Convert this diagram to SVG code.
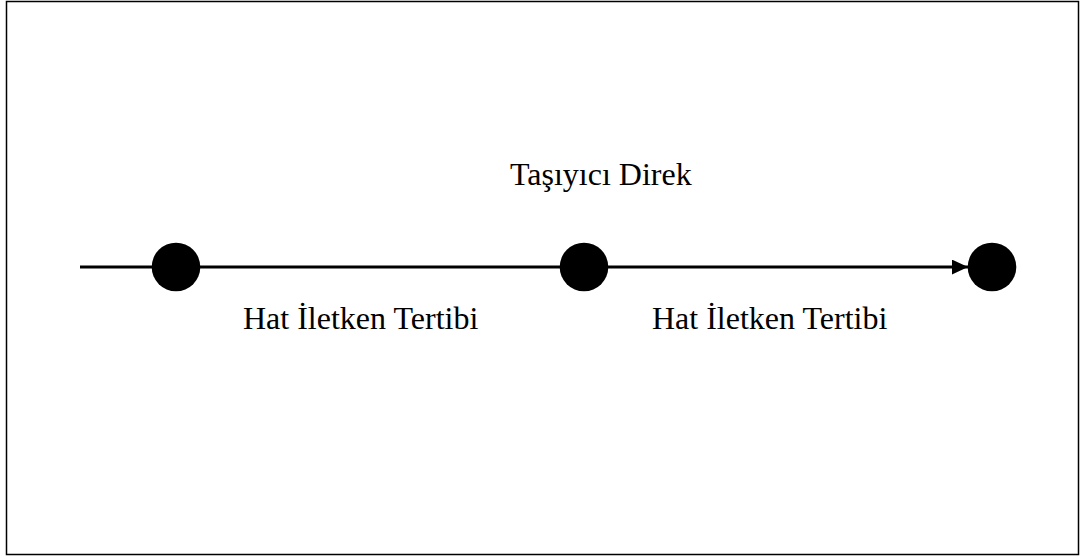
<svg xmlns="http://www.w3.org/2000/svg" width="1080" height="556" viewBox="0 0 1080 556">
<style>
.lbl{font-family:"Liberation Serif","Times New Roman",serif;font-size:32px;fill:#000}
.node{fill:#000}
.conn{stroke:#000;stroke-width:3;fill:none}
</style>
<defs>
<marker id="arr" markerWidth="6" markerHeight="6" refX="5.4" refY="2.5" orient="auto" markerUnits="strokeWidth"><path d="M0,0 L5.4,2.5 L0,5 Z" fill="#000"/></marker>
</defs>
<rect x="6.5" y="1.5" width="1072" height="553" fill="#fff" stroke="#000" stroke-width="1.5"/>
<g id="connectors">
<line class="conn" x1="80" y1="267" x2="968" y2="267" marker-end="url(#arr)"/>
</g>
<g id="node1"><circle class="node" cx="176" cy="267" r="24.3"/></g>
<g id="node2"><circle class="node" cx="584" cy="267" r="24.3"/></g>
<g id="node3"><circle class="node" cx="992" cy="267" r="24.3"/></g>
<g id="label-tasiyici"><text class="lbl" x="510" y="185">Taşıyıcı Direk</text></g>
<g id="label-hat1"><text class="lbl" x="243" y="329">Hat İletken Tertibi</text></g>
<g id="label-hat2"><text class="lbl" x="652" y="329">Hat İletken Tertibi</text></g>
</svg>
